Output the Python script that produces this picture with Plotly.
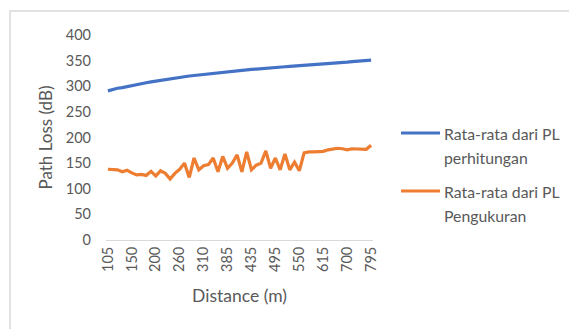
import plotly.graph_objects as go

distance = [105, 115, 125, 130, 140, 150, 160, 170, 180, 190, 200, 210, 225, 235, 250, 260,
            270, 280, 290, 300, 310, 325, 340, 355, 370, 385, 395, 405, 415, 425, 435, 445,
            460, 470, 485, 495, 505, 515, 530, 540, 550, 565, 575, 590, 600, 615, 630, 650,
            665, 685, 700, 720, 740, 755, 775, 795]

pl_perhitungan = [291.0, 293.7, 296.1, 297.3, 299.5, 301.5, 303.4, 305.2, 306.9, 308.5, 310.0,
                  311.5, 313.5, 314.8, 316.6, 317.8, 318.9, 320.0, 321.0, 322.0, 323.0, 324.4,
                  325.7, 327.0, 328.2, 329.4, 330.1, 330.9, 331.6, 332.3, 333.0, 333.6, 334.6,
                  335.3, 336.2, 336.8, 337.4, 338.0, 338.8, 339.4, 339.9, 340.7, 341.2, 342.0,
                  342.5, 343.2, 343.9, 344.8, 345.5, 346.4, 347.0, 347.9, 348.7, 349.3, 350.0,
                  350.8]

pl_pengukuran = [138, 138, 137, 133, 136, 131, 127, 128, 126, 134, 125, 135, 130, 119, 130, 138,
                 150, 122, 160, 137, 145, 147, 160, 133, 163, 140, 150, 166, 133, 172, 137, 146,
                 150, 174, 140, 160, 137, 168, 137, 152, 135, 170, 172, 172, 172, 173, 176, 178,
                 179, 178, 176, 178, 178, 178, 177, 185]

tick_labels = [105, 150, 200, 260, 310, 385, 435, 495, 550, 615, 700, 795]

series_names = [["Rata-rata dari PL", "perhitungan"], ["Rata-rata dari PL", "Pengukuran"]]
series_colors = ["#4472C4", "#ED7D31"]

W, H = 569, 329
ML, MR, MT, MB = 106, 196, 35, 89

xcat = [str(d) for d in distance]

fig = go.Figure()
for vals, names, col in zip([pl_perhitungan, pl_pengukuran], series_names, series_colors):
    fig.add_trace(go.Scatter(x=xcat, y=vals, mode="lines", name=" ".join(names),
                             showlegend=False, line=dict(color=col, width=3.2)))

font_family = "Lato, 'Open Sans', sans-serif"
gray = "#595959"

pw = W - ML - MR
ph = H - MT - MB


def px_x(px):
    return (px - ML) / pw


def px_y(py):
    return (H - py - MB) / ph


shapes = [dict(type="rect", xref="paper", yref="paper",
               x0=px_x(10), x1=px_x(W + 5), y0=px_y(H + 5), y1=px_y(11),
               line=dict(color="#D9D9D9", width=1.5), fillcolor="rgba(0,0,0,0)", layer="below")]
annotations = []
leg_y = [133, 191]
for (l1, l2), col, yy in zip(series_names, series_colors, leg_y):
    shapes.append(dict(type="line", xref="paper", yref="paper",
                       x0=px_x(401), x1=px_x(440), y0=px_y(yy), y1=px_y(yy),
                       line=dict(color=col, width=3.2)))
    for txt, ty in ((l1, yy), (l2, yy + 24)):
        annotations.append(dict(text=txt, xref="paper", yref="paper", x=px_x(442), y=px_y(ty),
                                xanchor="left", yanchor="middle", showarrow=False,
                                font=dict(size=15.8, color=gray, family=font_family)))

fig.update_layout(
    width=W, height=H,
    margin=dict(l=ML, r=MR, t=MT, b=MB, pad=0),
    paper_bgcolor="white", plot_bgcolor="white",
    font=dict(family=font_family, color=gray, size=15),
    showlegend=False,
    xaxis=dict(type="category", categoryorder="array", categoryarray=xcat,
               tickmode="array", tickvals=[str(t) for t in tick_labels],
               ticktext=[str(t) for t in tick_labels],
               tickangle=-90, ticks="", showgrid=False, zeroline=False,
               showline=True, linecolor="#D9D9D9", linewidth=1,
               range=[-0.4, len(xcat) - 0.6],
               tickfont=dict(size=14.5, color=gray),
               title=dict(text="Distance (m)", font=dict(size=17.5, color=gray), standoff=18)),
    yaxis=dict(range=[0, 400], tickvals=[0, 50, 100, 150, 200, 250, 300, 350, 400],
               showgrid=False, zeroline=False, showline=False, ticks="",
               tickfont=dict(size=14.5, color=gray), ticklabelstandoff=14,
               title=dict(text="Path Loss (dB)", font=dict(size=17, color=gray), standoff=8)),
    shapes=shapes,
    annotations=annotations,
)

fig.write_html("out.html")
